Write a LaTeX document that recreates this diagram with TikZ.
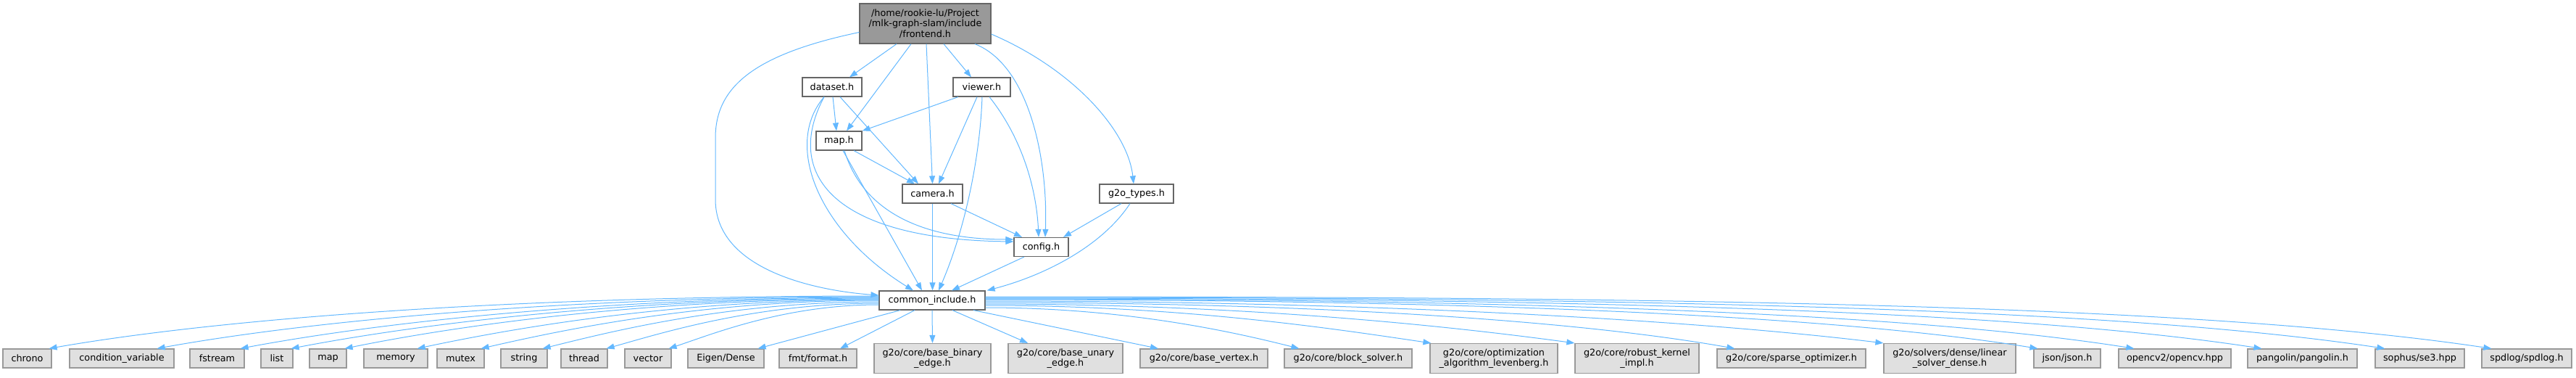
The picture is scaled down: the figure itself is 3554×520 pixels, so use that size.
\documentclass[tikz,border=0pt]{standalone}
\usepackage{fontspec}
\setmainfont{DejaVu Sans}
\usetikzlibrary{arrows.meta}
\definecolor{EdgeBlue}{HTML}{63B8FF}
\definecolor{RootGrey}{HTML}{999999}
\definecolor{BoxLine}{HTML}{666666}
\definecolor{SysFill}{HTML}{E0E0E0}
\definecolor{SysLine}{HTML}{999999}
\tikzset{
  filebox/.style={draw=BoxLine,fill=white,line width=1.2pt,
    minimum height=26pt,inner sep=1pt,align=center},
  rootbox/.style={filebox,fill=RootGrey,minimum height=55pt},
  sysbox/.style={draw=SysLine,fill=SysFill,line width=1.2pt,
    minimum height=26pt,inner sep=1pt,align=center},
  twoline/.style={minimum height=41pt},
  dep/.style={-{Triangle[length=11pt,width=8pt]},EdgeBlue,line width=1pt}
}

\begin{document}
\begin{tikzpicture}[x=1pt,y=1pt,every node/.append style={font=\fontsize{12.8}{14.5}\selectfont}]
          \useasboundingbox (0,0) rectangle (3554,520);
          % project headers
          \node[rootbox,minimum width=181pt] (frontend) at (1276.5,487.5) {/home/rookie-lu/Project\\/mlk-graph-slam/include\\/frontend.h};
          \node[filebox,minimum width=82pt] (dataset) at (1148,400) {dataset.h};
          \node[filebox,minimum width=79pt] (viewer) at (1354.5,400) {viewer.h};
          \node[filebox,minimum width=63pt] (map) at (1157.5,326) {map.h};
          \node[filebox,minimum width=83pt] (camera) at (1286.5,253) {camera.h};
          \node[filebox,minimum width=102pt] (g2otypes) at (1568,253) {g2o\_types.h};
          \node[filebox,minimum width=75pt] (config) at (1436.5,179.5) {config.h};
          \node[filebox,minimum width=146pt] (common) at (1286,106) {common\_include.h};
          % system and third party headers
          \node[sysbox,minimum width=67pt] (chrono) at (37.5,26) {chrono};
          \node[sysbox,minimum width=144pt] (condvar) at (168,26) {condition\_variable};
          \node[sysbox,minimum width=75pt] (fstream) at (299.5,26) {fstream};
          \node[sysbox,minimum width=44pt] (liststd) at (382,26) {list};
          \node[sysbox,minimum width=51pt] (mapstd) at (452.5,26) {map};
          \node[sysbox,minimum width=88pt] (memory) at (546,26) {memory};
          \node[sysbox,minimum width=65pt] (mutex) at (635.5,26) {mutex};
          \node[sysbox,minimum width=64pt] (stringstd) at (723,26) {string};
          \node[sysbox,minimum width=64pt] (thread) at (806,26) {thread};
          \node[sysbox,minimum width=64pt] (vector) at (894,26) {vector};
          \node[sysbox,minimum width=105pt] (eigen) at (1001.5,26) {Eigen/Dense};
          \node[sysbox,minimum width=107pt] (fmt) at (1128.5,26) {fmt/format.h};
          \node[sysbox,twoline,minimum width=161pt] (binaryedge) at (1286.5,26) {g2o/core/base\_binary\\\_edge.h};
          \node[sysbox,twoline,minimum width=158pt] (unaryedge) at (1470,26) {g2o/core/base\_unary\\\_edge.h};
          \node[sysbox,minimum width=176pt] (basevertex) at (1661,26) {g2o/core/base\_vertex.h};
          \node[sysbox,minimum width=176pt] (blocksolver) at (1860,26) {g2o/core/block\_solver.h};
          \node[sysbox,twoline,minimum width=176pt] (levenberg) at (2061,26) {g2o/core/optimization\\\_algorithm\_levenberg.h};
          \node[sysbox,twoline,minimum width=171pt] (robustkernel) at (2258.5,26) {g2o/core/robust\_kernel\\\_impl.h};
          \node[sysbox,minimum width=205pt] (sparseopt) at (2471.5,26) {g2o/core/sparse\_optimizer.h};
          \node[sysbox,twoline,minimum width=182pt] (linearsolver) at (2690,26) {g2o/solvers/dense/linear\\\_solver\_dense.h};
          \node[sysbox,minimum width=92pt] (json) at (2852,26) {json/json.h};
          \node[sysbox,minimum width=155pt] (opencv) at (3000.5,26) {opencv2/opencv.hpp};
          \node[sysbox,minimum width=151pt] (pangolin) at (3176.5,26) {pangolin/pangolin.h};
          \node[sysbox,minimum width=123pt] (sophus) at (3338.5,26) {sophus/se3.hpp};
          \node[sysbox,minimum width=124pt] (spdlog) at (3486,26) {spdlog/spdlog.h};
          % frontend.h includes
          \draw[dep] ([yshift=-12]frontend.west) .. controls (1040,445) and (987,400) .. (987,330)
            -- (987,245) .. controls (987,150) and (1120,120) .. ([yshift=7]common.west);
          \draw[dep] ([xshift=-39.5]frontend.south) -- ([xshift=24]dataset.north);
          \draw[dep] ([xshift=-19.5]frontend.south) -- ([xshift=10.5]map.north);
          \draw[dep] ([xshift=1.5]frontend.south) -- (camera.north);
          \draw[dep] ([xshift=25.5]frontend.south) -- ([xshift=-14.5]viewer.north);
          \draw[dep] ([xshift=68.5]frontend.south) .. controls (1420,430) and (1446,300) .. ([xshift=5.5]config.north);
          \draw[dep] ([yshift=-14.5]frontend.east) .. controls (1480,425) and (1556,340) .. ([xshift=-4]g2otypes.north);
          % dataset.h and map.h
          \draw[dep] ([xshift=1]dataset.south) -- ([xshift=-3.5]map.north);
          \draw[dep] ([xshift=11]dataset.south) -- ([xshift=-19.5]camera.north);
          \draw[dep] ([xshift=-11]dataset.south) .. controls (1080,320) and (1130,200) .. ([xshift=-26]common.north);
          \draw[dep] ([xshift=-11]dataset.south) .. controls (1080,280) and (1150,190) .. ([yshift=7.5]config.west);
          \draw[dep] ([xshift=20.5]map.south) -- ([xshift=-24.5]camera.north);
          \draw[dep] ([xshift=5.5]map.south) -- ([xshift=-14]common.north);
          \draw[dep] ([xshift=7.5]map.south) .. controls (1190,230) and (1270,190) .. ([yshift=10.5]config.west);
          % viewer.h
          \draw[dep] ([xshift=-32.5]viewer.south) -- (map.north east);
          \draw[dep] ([xshift=-6.5]viewer.south) -- ([xshift=8.5]camera.north);
          \draw[dep] ([xshift=0.5]viewer.south) .. controls (1352,300) and (1330,200) .. ([xshift=9]common.north);
          \draw[dep] ([xshift=10.5]viewer.south) .. controls (1410,330) and (1430,260) .. ([xshift=-3.5]config.north);
          % camera.h, g2o_types.h and config.h
          \draw[dep] ([xshift=25.5]camera.south) -- ([xshift=-26.5]config.north);
          \draw[dep] (camera.south) -- ([xshift=0.5]common.north);
          \draw[dep] ([xshift=-21]g2otypes.south) -- ([xshift=30.5]config.north);
          \draw[dep] ([xshift=-9]g2otypes.south) .. controls (1520,180) and (1440,140) .. ([xshift=2]common.north east);
          \draw[dep] ([xshift=-23.5]config.south) -- ([xshift=27]common.north);
          % common_include.h, left side
          \draw[dep] ([yshift=6]common.west) .. controls +(-516,0) and +(229,40) .. ([xshift=-4]chrono.north east);
          \draw[dep] ([yshift=5]common.west) .. controls +(-449,0) and +(199,36) .. ([xshift=-24]condvar.north east);
          \draw[dep] ([yshift=4]common.west) .. controls +(-397,0) and +(176,33) .. ([xshift=-6]fstream.north east);
          \draw[dep] ([yshift=3]common.west) .. controls +(-365,0) and +(162,31) .. ([xshift=-3]liststd.north east);
          \draw[dep] ([yshift=2]common.west) .. controls +(-332,0) and +(148,30) .. ([xshift=-3]mapstd.north east);
          \draw[dep] ([yshift=1]common.west) .. controls +(-287,0) and +(128,27) .. ([xshift=-15]memory.north east);
          \draw[dep] (common.west) .. controls +(-248,0) and +(110,25) .. ([xshift=-5]mutex.north east);
          \draw[dep] ([yshift=-2]common.west) .. controls +(-209,0) and +(93,23) .. ([xshift=-7]stringstd.north east);
          \draw[dep] ([yshift=-4]common.west) .. controls +(-170,0) and +(75,21) .. ([xshift=-2]thread.north east);
          \draw[dep] ([yshift=-6]common.west) .. controls +(-131,0) and +(58,19) .. ([xshift=-4]vector.north east);
          \draw[dep] ([xshift=-44]common.south) -- ([xshift=-9]eigen.north east);
          \draw[dep] ([xshift=-24]common.south) -- ([xshift=30.5]fmt.north);
          % common_include.h, right side
          \draw[dep] (common.south) -- (binaryedge.north);
          \draw[dep] ([xshift=28]common.south) -- ([xshift=-52]unaryedge.north);
          \draw[dep] ([xshift=57]common.south) -- ([xshift=-63]basevertex.north);
          \draw[dep] ([yshift=-10]common.east) .. controls +(195,0) and +(-87,22) .. ([xshift=21]blocksolver.north west);
          \draw[dep] ([yshift=-7]common.east) .. controls +(277,0) and +(-123,18) .. ([xshift=2]levenberg.north west);
          \draw[dep] ([yshift=-5]common.east) .. controls +(366,0) and +(-163,22) .. (robustkernel.north west);
          \draw[dep] ([yshift=-3]common.east) .. controls +(466,0) and +(-207,37) .. ([xshift=25]sparseopt.north west);
          \draw[dep] ([yshift=-1]common.east) .. controls +(558,0) and +(-248,30) .. (linearsolver.north west);
          \draw[dep] ([yshift=1]common.east) .. controls +(654,0) and +(-291,47) .. ([xshift=6]json.north west);
          \draw[dep] ([yshift=2]common.east) .. controls +(714,0) and +(-317,50) .. ([xshift=22]opencv.north west);
          \draw[dep] ([yshift=3]common.east) .. controls +(793,0) and +(-352,54) .. ([xshift=20]pangolin.north west);
          \draw[dep] ([yshift=4]common.east) .. controls +(869,0) and +(-386,58) .. ([xshift=14]sophus.north west);
          \draw[dep] ([yshift=5]common.east) .. controls +(936,0) and +(-416,62) .. ([xshift=14]spdlog.north west);
        \end{tikzpicture}
\end{document}
